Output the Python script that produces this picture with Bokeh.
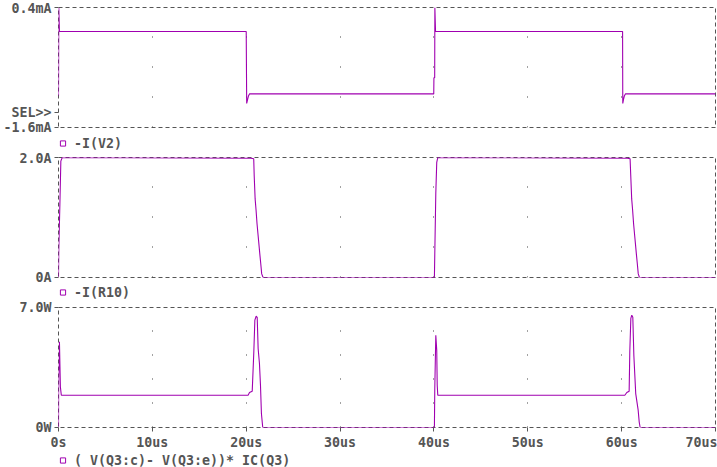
from bokeh.plotting import figure
from bokeh.models import (FixedTicker, Legend, LegendItem, Range1d, Grid)
from bokeh.layouts import column
from bokeh.embed import file_html
from bokeh.resources import INLINE
from bokeh.core.properties import value

# ---------------- data (time in us) ----------------
# panel 1 : -I(V2) in mA
t_v2 = [0, 0.01, 0.03, 0.1, 20.0, 20.05, 20.15, 20.25, 20.35, 39.98, 40.0, 40.08,
        40.1, 40.17, 60.1, 60.12, 60.2, 60.3, 60.4, 70]
i_v2 = [-1.07, -0.68, 0.4, 0.0, 0.0, -1.2, -1.13, -1.07, -1.04, -1.04, -0.77, -0.77,
        0.4, 0.0, 0.0, -1.2, -1.13, -1.07, -1.04, -1.04]

# panel 2 : -I(R10) in A
t_r10 = [0, 0.03, 0.14, 0.25, 0.4, 20.5, 20.8, 20.85, 20.95, 21.05, 21.15, 21.25,
         21.35, 21.45, 21.55, 21.65, 21.8, 40.05, 40.09, 40.2, 40.3, 40.41,
         60.6, 60.9, 60.97, 61.07, 61.17, 61.27, 61.37, 61.47, 61.57, 61.67, 61.77,
         61.9, 70]
i_r10 = [0, 0.46, 1.17, 1.94, 2.0, 1.99, 1.98, 1.7, 1.31, 1.12, 0.9, 0.73,
         0.56, 0.39, 0.23, 0.06, 0.0, 0.0, 0.38, 1.41, 1.92, 2.0,
         1.99, 1.98, 1.7, 1.31, 1.12, 0.9, 0.73, 0.56, 0.39, 0.23, 0.06,
         0.0, 0.0]

# panel 3 : (V(Q3:c)-V(Q3:e))*IC(Q3) in W
t_pw = [0, 0.02, 0.1, 0.2, 0.3, 20.2, 20.35, 20.64, 20.81, 20.92, 21.06, 21.17,
        21.27, 21.41, 21.52, 21.62, 21.76, 40.05, 40.09, 40.2, 40.3, 40.35, 40.41,
        60.34, 60.55, 60.8, 60.87, 60.98, 61.08, 61.19, 61.3, 61.4, 61.5, 61.76,
        61.87, 61.97, 70]
p_w = [0, 2.86, 5.0, 2.37, 1.88, 1.88, 2.04, 2.12, 4.41, 6.26, 6.49, 6.43,
       4.61, 3.73, 2.47, 0.82, 0.0, 0.0, 2.23, 5.38, 4.51, 2.47, 1.88,
       1.88, 2.04, 2.12, 4.45, 6.36, 6.55, 6.43, 4.22, 3.09, 1.98, 1.01,
       0.33, 0.0, 0.0]

x_ticks = [0, 10, 20, 30, 40, 50, 60, 70]
x_labels = ["0s", "10us", "20us", "30us", "40us", "50us", "60us", "70us"]
grid_ticks = [10, 20, 30, 40, 50, 60]

panels = [
    dict(t=t_v2, y=i_v2, yr=(-1.6, 0.4), yticks=[-1.6, -1.358, 0.4],
         ylabels=["-1.6mA", "SEL>>", "0.4mA"], name="-I(V2)",
         dash="1 29", top=7, bottom=8, leg_h=15, leg_box=20, leg_dy=-3),
    dict(t=t_r10, y=i_r10, yr=(0.0, 2.0), yticks=[0.0, 2.0],
         ylabels=["0A", "2.0A"], name="-I(R10)",
         dash="1 29", top=7, bottom=8, leg_h=14, leg_box=20, leg_dy=-3),
    dict(t=t_pw, y=p_w, yr=(0.0, 7.0), yticks=[0.0, 7.0],
         ylabels=["0W", "7.0W"], name="( V(Q3:c)- V(Q3:e))* IC(Q3)",
         dash="1 23", top=8, bottom=23, leg_h=17, leg_box=16, leg_dy=1),
]

PURPLE = "#a000b0"
GREY = "#555555"
FONT = "DejaVu Sans Mono"
FSIZE = "13.3px"


def style_axis(ax, standoff):
    ax.axis_line_color = None
    ax.major_tick_out = 4
    ax.major_tick_in = 0
    ax.minor_tick_line_color = None
    ax.major_tick_line_color = GREY
    ax.major_label_standoff = standoff
    ax.major_label_text_font = FONT
    ax.major_label_text_font_size = FSIZE
    ax.major_label_text_font_style = "bold"
    ax.major_label_text_color = GREY


rows = []
for k, pc in enumerate(panels):
    last = (k == len(panels) - 1)
    p = figure(frame_width=657, frame_height=120,
               x_range=Range1d(0, 70), y_range=Range1d(*pc["yr"]),
               output_backend="svg", toolbar_location=None,
               min_border_left=57, min_border_right=3,
               min_border_top=pc["top"], min_border_bottom=pc["bottom"],
               x_axis_location="below" if last else None,
               background_fill_color="white", border_fill_color="white")
    p.outline_line_color = GREY
    p.outline_line_dash = "4 3"
    p.outline_line_width = 1
    p.xgrid.visible = False
    p.ygrid.visible = False
    p.add_layout(Grid(dimension=0, ticker=FixedTicker(ticks=grid_ticks),
                      grid_line_color="#444444", grid_line_dash=pc["dash"],
                      grid_line_width=1))

    ya = p.yaxis[0]
    ya.ticker = FixedTicker(ticks=pc["yticks"])
    ya.major_label_overrides = {tv: lb for tv, lb in zip(pc["yticks"], pc["ylabels"])}
    style_axis(ya, 3)

    if last:
        xa = p.xaxis[0]
        xa.ticker = FixedTicker(ticks=x_ticks)
        xa.major_label_overrides = {tv: lb for tv, lb in zip(x_ticks, x_labels)}
        style_axis(xa, 3)

    p.line(pc["t"], pc["y"], line_color=PURPLE, line_width=1.1)
    rows.append(p)

    # legend strip below the panel
    s = figure(width=717, height=pc["leg_h"], x_range=Range1d(0, 1), y_range=Range1d(0, 1),
               output_backend="svg", toolbar_location=None,
               x_axis_location=None, y_axis_location=None, min_border=0,
               min_border_left=0, min_border_right=0, min_border_top=0, min_border_bottom=0,
               outline_line_color=None, background_fill_color="white",
               border_fill_color="white")
    s.xgrid.visible = False
    s.ygrid.visible = False
    marker = s.scatter(x=pc["t"], y=pc["y"], marker="square", size=5, line_color=PURPLE,
                       fill_color=None, line_width=1, visible=False)
    lg = Legend(items=[LegendItem(label=value(pc["name"]), renderers=[marker])],
                location=(-2, pc["leg_dy"]),
                glyph_width=13, glyph_height=pc["leg_box"], label_height=pc["leg_box"],
                label_standoff=5, padding=0, margin=0, spacing=0,
                border_line_color=None, background_fill_alpha=0,
                inactive_fill_alpha=0,
                label_text_font=FONT, label_text_font_size=FSIZE,
                label_text_font_style="bold", label_text_color=GREY)
    s.add_layout(lg)
    rows.append(s)

layout = column(*rows, spacing=0)
open("out.html", "w").write(file_html(layout, INLINE))
